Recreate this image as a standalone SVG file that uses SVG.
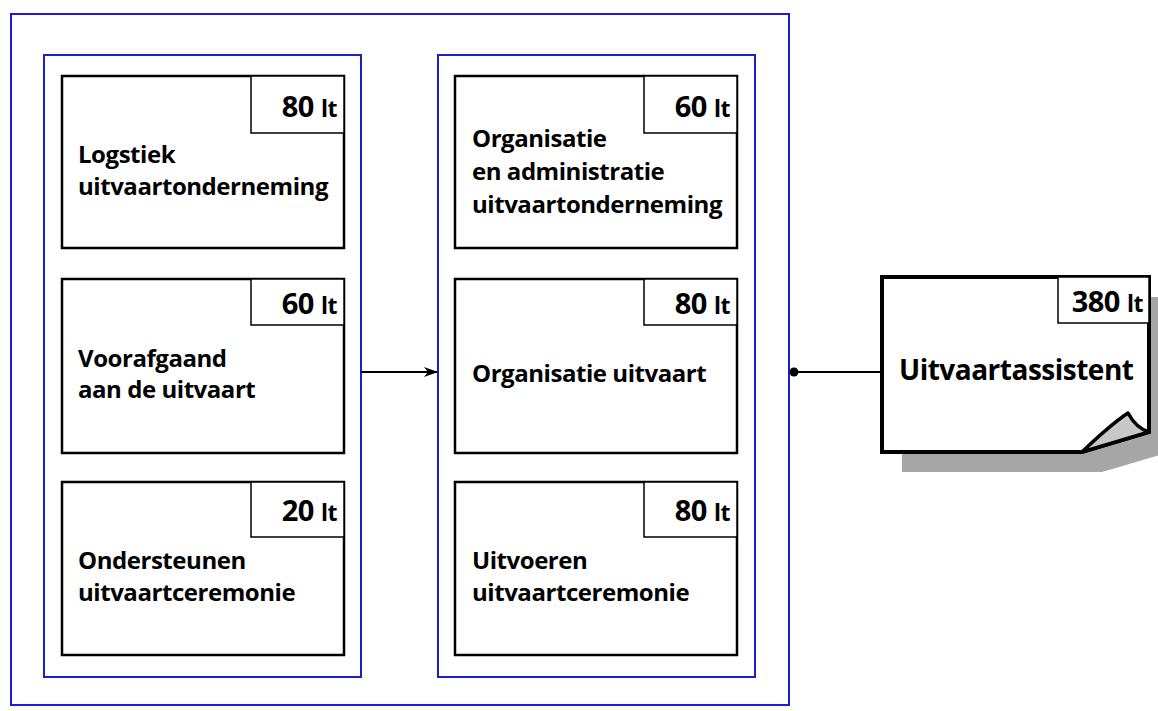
<svg xmlns="http://www.w3.org/2000/svg" width="1158" height="711" viewBox="0 0 1158 711">
<style>
.blue{fill:none;stroke:#1c1cd0;stroke-width:2}
.box{fill:#fff;stroke:#000;stroke-width:2.5}
.lbl{fill:#fff;stroke:#000;stroke-width:1.5}
.t{font-family:"Open Sans","Liberation Sans",sans-serif;font-weight:bold;font-size:24px;letter-spacing:-0.45px;fill:#000}
.n{font-family:"Open Sans","Liberation Sans",sans-serif;font-weight:bold;font-size:29px;letter-spacing:-0.5px;fill:#000;text-anchor:end}
.n tspan{font-size:23px}
.conn{stroke:#000;stroke-width:2;fill:none}
</style>
<defs>
<marker id="arr" markerWidth="14" markerHeight="10" refX="13" refY="5" orient="auto" markerUnits="userSpaceOnUse">
<path d="M0,0 L14,5 L0,10 L4,5 Z" fill="#000"/>
</marker>
</defs>
<rect width="1158" height="711" fill="#fff"/>
<g id="outer"><rect class="blue" x="11" y="14" width="778" height="691"/></g>
<g id="group-left"><rect class="blue" x="44" y="55" width="317" height="622"/></g>
<g id="group-right"><rect class="blue" x="438" y="55" width="317" height="622"/></g>

<g id="n-logistiek">
<rect class="box" x="62" y="76" width="282" height="172"/>
<rect class="lbl" x="251" y="76" width="93" height="57"/>
<text class="n" x="337" y="117">80 <tspan>lt</tspan></text>
<text class="t" x="78" y="163">Logstiek</text>
<text class="t" x="78" y="195">uitvaartonderneming</text>
</g>
<g id="n-voorafgaand">
<rect class="box" x="62" y="279" width="282" height="174"/>
<rect class="lbl" x="251" y="279" width="93" height="46"/>
<text class="n" x="337" y="314">60 <tspan>lt</tspan></text>
<text class="t" x="78" y="367">Voorafgaand</text>
<text class="t" x="78" y="398">aan de uitvaart</text>
</g>
<g id="n-ondersteunen">
<rect class="box" x="62" y="482" width="282" height="173"/>
<rect class="lbl" x="251" y="482" width="93" height="55"/>
<text class="n" x="337" y="521">20 <tspan>lt</tspan></text>
<text class="t" x="78" y="569">Ondersteunen</text>
<text class="t" x="78" y="601">uitvaartceremonie</text>
</g>

<g id="n-organisatie-admin">
<rect class="box" x="455" y="76" width="282" height="172"/>
<rect class="lbl" x="644" y="76" width="93" height="57"/>
<text class="n" x="730" y="117">60 <tspan>lt</tspan></text>
<text class="t" x="472" y="147">Organisatie</text>
<text class="t" x="472" y="180">en administratie</text>
<text class="t" x="472" y="213">uitvaartonderneming</text>
</g>
<g id="n-organisatie-uitvaart">
<rect class="box" x="455" y="279" width="282" height="174"/>
<rect class="lbl" x="644" y="279" width="93" height="46"/>
<text class="n" x="730" y="314">80 <tspan>lt</tspan></text>
<text class="t" x="472" y="382">Organisatie uitvaart</text>
</g>
<g id="n-uitvoeren">
<rect class="box" x="455" y="482" width="282" height="173"/>
<rect class="lbl" x="644" y="482" width="93" height="55"/>
<text class="n" x="730" y="521">80 <tspan>lt</tspan></text>
<text class="t" x="472" y="569">Uitvoeren</text>
<text class="t" x="472" y="601">uitvaartceremonie</text>
</g>

<g id="n-uitvaartassistent">
<path d="M902,297 L1170,297 L1170,452 L1102,472 L902,472 Z" fill="#a6a6a6"/>
<path d="M882,277 L1149,277 L1149,432 L1082,452 L882,452 Z" fill="#fff" stroke="#000" stroke-width="4" stroke-linejoin="miter"/>
<path d="M1082,452 Q1110,425 1128,413 Q1136,428 1149,432 Z" fill="#c8c8c8" stroke="#000" stroke-width="3.5" stroke-linejoin="round"/>
<rect class="lbl" x="1058" y="277" width="91" height="46"/>
<text class="n" x="1143" y="312">380 <tspan>lt</tspan></text>
<text class="t" x="899" y="380" style="font-size:28px;letter-spacing:-0.5px">Uitvaartassistent</text>
</g>

<g id="connectors">
<line class="conn" x1="361" y1="372" x2="437" y2="372" marker-end="url(#arr)"/>
<line class="conn" x1="794" y1="372" x2="882" y2="372"/>
<circle cx="794" cy="372" r="4.5" fill="#000"/>
</g>
</svg>
